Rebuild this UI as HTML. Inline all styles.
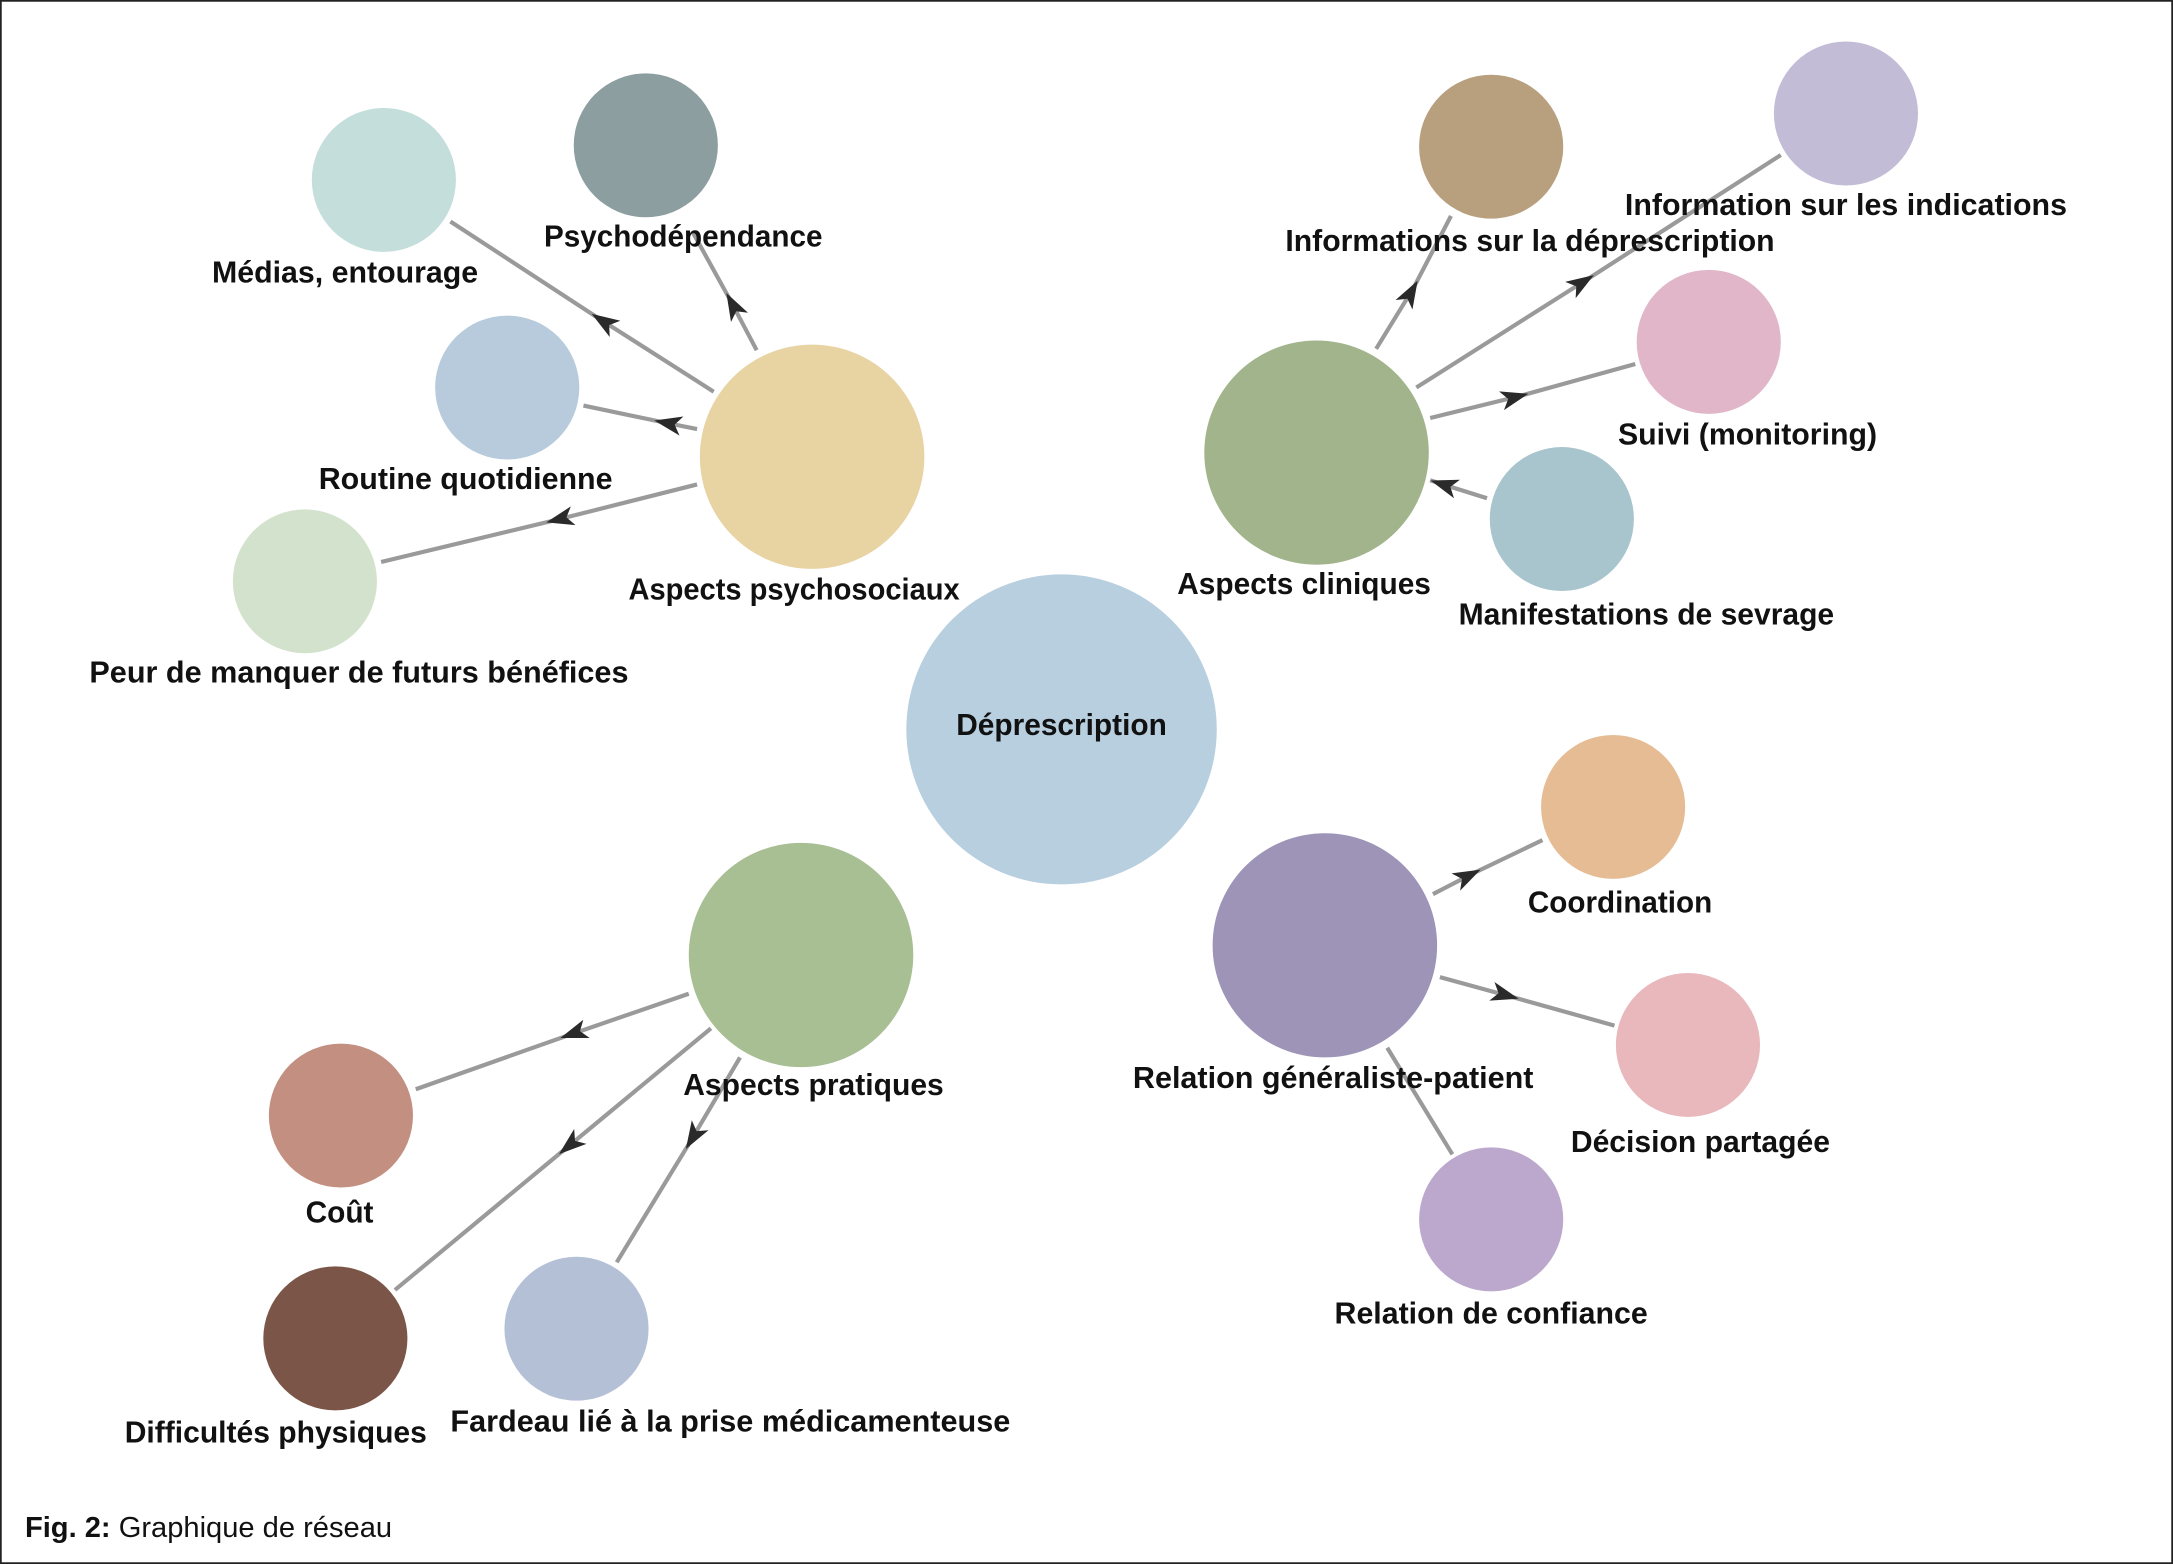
<!DOCTYPE html>
<html><head><meta charset="utf-8">
<style>
html,body{margin:0;padding:0;background:#fff;}
svg{display:block;}
text{font-family:"Liberation Sans Narrow","Liberation Sans",sans-serif;font-weight:bold;font-size:22px;fill:#111;}
</style></head>
<body>
<svg width="2173" height="1564" viewBox="0 0 1568 1130" preserveAspectRatio="none" xmlns="http://www.w3.org/2000/svg">
<defs>
<marker id="a" viewBox="0 0 20 14" refX="14" refY="7" markerWidth="20" markerHeight="14" markerUnits="userSpaceOnUse" orient="auto">
<path d="M0,0 L20,7 L0,14 L5,7 Z" fill="#2a2a2a"/>
</marker>
</defs>
<rect x="0.5" y="0.5" width="1567" height="1129" fill="#fff" stroke="#222" stroke-width="1.5"/>
<g stroke="#9a9a9a" stroke-width="3" fill="none" marker-mid="url(#a)">
<path d="M515,283 L432,230 L325,160"/>
<path d="M546,253 L527,217 L500,168"/>
<path d="M503,310 L478,305 L421,293"/>
<path d="M503,350 L400,376 L275,406"/>
<path d="M993,252 L1020,208 L1047,156"/>
<path d="M1022,280 L1145,202 L1285,112"/>
<path d="M1032,302 L1097,286 L1180,263"/>
<path d="M1073,360 L1038,349 L1032,347"/>
<path d="M497,718 L410,748 L300,787"/>
<path d="M513,743 L408,830 L285,932"/>
<path d="M534,764 L498,825 L445,912"/>
<path d="M1034,646 L1063,631 L1113,607"/>
<path d="M1039,706 L1090,720 L1165,741"/>
</g>
<path d="M1001,757 L1048,834" stroke="#9a9a9a" stroke-width="3"/>
<g>
<circle cx="766" cy="527" r="112" fill="#b8cfe0"/>
<circle cx="586" cy="330" r="81" fill="#e8d3a3"/>
<circle cx="277" cy="130" r="52" fill="#c4dedc"/>
<circle cx="466" cy="105" r="52" fill="#8c9ea0"/>
<circle cx="366" cy="280" r="52" fill="#b7cbdc"/>
<circle cx="220" cy="420" r="52" fill="#d3e2cc"/>
<circle cx="950" cy="327" r="81" fill="#a2b48c"/>
<circle cx="1076" cy="106" r="52" fill="#b8a07f"/>
<circle cx="1332" cy="82" r="52" fill="#c2bcd6"/>
<circle cx="1233" cy="247" r="52" fill="#e0b6c8"/>
<circle cx="1127" cy="375" r="52" fill="#a8c4cc"/>
<circle cx="578" cy="690" r="81" fill="#a8bf94"/>
<circle cx="246" cy="806" r="52" fill="#c28f80"/>
<circle cx="242" cy="967" r="52" fill="#7a5548"/>
<circle cx="416" cy="960" r="52" fill="#b4c0d6"/>
<circle cx="956" cy="683" r="81" fill="#9d94b8"/>
<circle cx="1164" cy="583" r="52" fill="#e6bc94"/>
<circle cx="1218" cy="755" r="52" fill="#e8b8bc"/>
<circle cx="1076" cy="881" r="52" fill="#bba8cc"/>
</g>
<g text-anchor="middle" dominant-baseline="central">
<text x="249" y="197" textLength="192" lengthAdjust="spacingAndGlyphs">Médias, entourage</text>
<text x="493" y="171" textLength="201" lengthAdjust="spacingAndGlyphs">Psychodépendance</text>
<text x="336" y="346" textLength="212" lengthAdjust="spacingAndGlyphs">Routine quotidienne</text>
<text x="259" y="486" textLength="389" lengthAdjust="spacingAndGlyphs">Peur de manquer de futurs bénéfices</text>
<text x="573" y="426" textLength="239" lengthAdjust="spacingAndGlyphs">Aspects psychosociaux</text>
<text x="1104" y="174" textLength="353" lengthAdjust="spacingAndGlyphs">Informations sur la déprescription</text>
<text x="1332" y="148" textLength="319" lengthAdjust="spacingAndGlyphs">Information sur les indications</text>
<text x="1261" y="314" textLength="187" lengthAdjust="spacingAndGlyphs">Suivi (monitoring)</text>
<text x="1188" y="444" textLength="271" lengthAdjust="spacingAndGlyphs">Manifestations de sevrage</text>
<text x="941" y="422" textLength="183" lengthAdjust="spacingAndGlyphs">Aspects cliniques</text>
<text x="766" y="524" textLength="152" lengthAdjust="spacingAndGlyphs">Déprescription</text>
<text x="587" y="784" textLength="188" lengthAdjust="spacingAndGlyphs">Aspects pratiques</text>
<text x="245" y="876" textLength="49" lengthAdjust="spacingAndGlyphs">Coût</text>
<text x="199" y="1035" textLength="218" lengthAdjust="spacingAndGlyphs">Difficultés physiques</text>
<text x="527" y="1027" textLength="404" lengthAdjust="spacingAndGlyphs">Fardeau lié à la prise médicamenteuse</text>
<text x="962" y="779" textLength="289" lengthAdjust="spacingAndGlyphs">Relation généraliste-patient</text>
<text x="1169" y="652" textLength="133" lengthAdjust="spacingAndGlyphs">Coordination</text>
<text x="1227" y="825" textLength="187" lengthAdjust="spacingAndGlyphs">Décision partagée</text>
<text x="1076" y="949" textLength="226" lengthAdjust="spacingAndGlyphs">Relation de confiance</text>
</g>
<text x="18" y="1104" dominant-baseline="central" style="font-weight:normal;font-size:21px"><tspan style="font-weight:bold">Fig. 2:</tspan> Graphique de réseau</text>
</svg>
</body></html>
